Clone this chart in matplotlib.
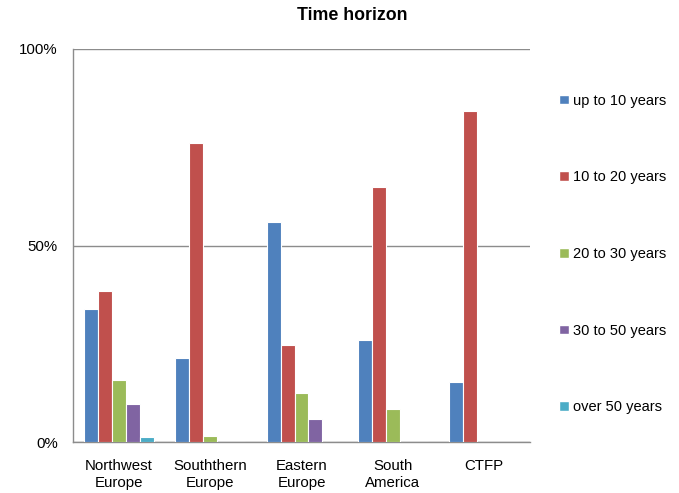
import numpy as np
import matplotlib
matplotlib.use("Agg")
import matplotlib.pyplot as plt
from matplotlib.patches import Patch

plt.rcParams['font.family'] = ['Liberation Sans', 'DejaVu Sans']

# data (percent)
regions = ['Northwest\nEurope', 'Souththern\nEurope', 'Eastern\nEurope', 'South\nAmerica', 'CTFP']
series = ['up to 10 years', '10 to 20 years', '20 to 30 years', '30 to 50 years', 'over 50 years']
up_to_10 = [33.9, 21.5, 56.0, 25.9, 15.2]
y10_to_20 = [38.3, 76.2, 24.7, 65.0, 84.3]
y20_to_30 = [15.8, 1.6, 12.4, 8.5, 0]
y30_to_50 = [9.7, 0, 5.9, 0, 0]
over_50 = [1.35, 0, 0, 0, 0]
colors = ['#4F81BD', '#C0504D', '#9BBB59', '#8064A2', '#4BACC6']

values = [up_to_10, y10_to_20, y20_to_30, y30_to_50, over_50]

fig = plt.figure(figsize=(6.79, 4.93), dpi=100)
ax = fig.add_axes([73/679, 1 - 442/493, (530 - 73)/679, (442 - 49)/493])

x = np.arange(len(regions))
w = 0.153
for i, (vals, c) in enumerate(zip(values, colors)):
    ax.bar(x + (i - 2) * w, vals, width=w, color=c, edgecolor='white',
           linewidth=0.8, zorder=3)

ax.set_xlim(-0.5, len(regions) - 0.5)
ax.set_ylim(0, 100)
ax.set_yticks([0, 50, 100])
ax.set_yticklabels(['0%', '50%', '100%'], fontsize=10.8)
ax.set_xticks(x)
ax.set_xticklabels(regions, fontsize=10.8, linespacing=1.3)
ax.tick_params(axis='both', length=0)
ax.tick_params(axis='y', pad=11)
ax.tick_params(axis='x', pad=12)
ax.yaxis.grid(True, color='#8c8c8c', linewidth=1.0, zorder=0)
ax.set_axisbelow(True)
for s in ['top', 'right']:
    ax.spines[s].set_visible(False)
for s in ['left', 'bottom']:
    ax.spines[s].set_color('#8c8c8c')
    ax.spines[s].set_linewidth(1.0)

fig.text(352/679, 1 - 15/493, 'Time horizon', ha='center', va='center',
         fontsize=12.8, fontweight='bold')

handles = [Patch(facecolor=c, edgecolor='white', label=s) for s, c in zip(series, colors)]
fig.legend(handles=handles, loc='center left', bbox_to_anchor=(552/679, 1 - 254/493),
           frameon=False, fontsize=10.5, labelspacing=4.3, handlelength=0.65,
           handleheight=0.65, handletextpad=0.3, borderpad=0)

fig.savefig('out.png', dpi=100)
